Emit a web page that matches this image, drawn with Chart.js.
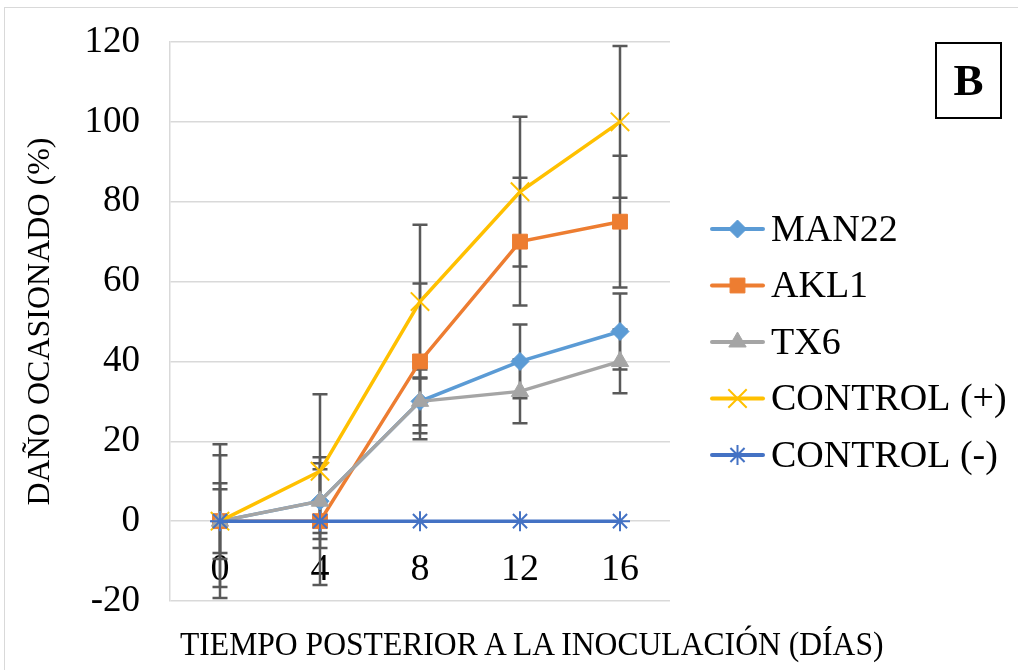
<!DOCTYPE html>
<html>
<head>
<meta charset="utf-8">
<script src="https://cdn.jsdelivr.net/npm/chart.js@4/dist/chart.umd.min.js"></script>
<style>
  html, body { margin: 0; padding: 0; background: #fff; }
  #wrap { position: relative; width: 1018px; height: 670px; overflow: hidden; }
  #frame { position: absolute; left: 4px; top: 7px; width: 1100px; height: 800px; border: 1.5px solid #d9d9d9; }
  #chart { position: absolute; left: 0; top: 0; }
  #xtitle { position: absolute; left: 180px; top: 625px; font-family: "Liberation Serif", serif; font-size: 34px;
    transform: scaleX(0.93); transform-origin: left top; white-space: nowrap; color: #000; }
  #tag { position: absolute; left: 935px; top: 42px; width: 63px; height: 73px; border: 2.5px solid #000;
    font-family: "Liberation Serif", serif; font-weight: bold; font-size: 45px; line-height: 73px; text-align: center; color: #000; }
</style>
</head>
<body>
<div id="wrap">
  <div id="frame"></div>
  <canvas id="chart" width="1018" height="670"></canvas>
  <div id="xtitle">TIEMPO POSTERIOR A LA INOCULACIÓN (DÍAS)</div>
  <div id="tag">B</div>
</div>
<script>
"use strict";

const days = ['0', '4', '8', '12', '16']

const seriesNames = ['MAN22', 'AKL1', 'TX6', 'CONTROL (+)', 'CONTROL (-)']

const man22 = [0, 5, 30, 40, 47.5]
const akl1 = [0, 0, 40, 70, 75]
const tx6 = [0, 5, 30, 32.5, 40]
const controlPos = [0, 12.5, 55, 82.5, 100]
const controlNeg = [0, 0, 0, 0, 0]

// half-length of each error bar
const man22Err = [9.5, 9.5, 8, 9.25, 9.5]
const akl1Err = [16.5, 16, 19.5, 16, 16.5]
const tx6Err = [8, 8, 6, 8, 8]
const controlPosErr = [19.25, 19.25, 19.25, 18.75, 19]
const controlNegErr = [0, 0, 0, 0, 0]

const serif = '"Liberation Serif", "Times New Roman", serif'

function series(i, data, err, color, style, radius, bw) {
	return {
		label: seriesNames[i],
		data: data,
		errors: err,
		borderColor: color,
		backgroundColor: color,
		borderWidth: 3.5,
		pointStyle: style,
		pointRadius: radius,
		pointBorderWidth: bw,
		pointBackgroundColor: color,
		pointBorderColor: color,
		tension: 0,
		fill: false,
		order: 5 - i
	}
}

const errorBars = {
	id: 'errorBars',
	beforeDatasetsDraw(chart) {
		const ctx = chart.ctx
		const xs = chart.scales.x
		const ys = chart.scales.y
		ctx.save()
		ctx.strokeStyle = '#595959'
		ctx.lineWidth = 2.5
		chart.data.datasets.forEach(ds => {
			ds.data.forEach((v, i) => {
				const e = ds.errors[i]
				if (!e) return
				const x = xs.getPixelForValue(i)
				const top = ys.getPixelForValue(v + e)
				const bot = ys.getPixelForValue(v - e)
				ctx.beginPath()
				ctx.moveTo(x, top); ctx.lineTo(x, bot)
				ctx.moveTo(x - 7.5, top); ctx.lineTo(x + 7.5, top)
				ctx.moveTo(x - 7.5, bot); ctx.lineTo(x + 7.5, bot)
				ctx.stroke()
			})
		})
		ctx.restore()
	}
}

const sideLegend = {
	id: 'sideLegend',
	afterDraw(chart) {
		const ctx = chart.ctx
		const area = chart.chartArea
		const x0 = area.right + 42
		const x1 = x0 + 51
		let y = area.top + 187
		ctx.save()
		ctx.font = '38px ' + serif
		ctx.textBaseline = 'middle'
		chart.data.datasets.forEach(ds => {
			ctx.strokeStyle = ds.borderColor
			ctx.fillStyle = ds.borderColor
			ctx.lineWidth = 4
			ctx.lineCap = 'round'
			ctx.beginPath()
			ctx.moveTo(x0, y); ctx.lineTo(x1, y)
			ctx.stroke()
			ctx.lineCap = 'butt'
			ctx.lineWidth = ds.pointBorderWidth
			Chart.helpers.drawPoint(ctx, {
				pointStyle: ds.pointStyle, radius: ds.pointRadius,
				borderWidth: ds.pointBorderWidth, rotation: 0
			}, (x0 + x1) / 2, y)
			ctx.fillStyle = '#000'
			ctx.fillText(ds.label, x1 + 8, y + 2)
			y += 56.5
		})
		ctx.restore()
	}
}

new Chart(document.getElementById('chart'), {
	type: 'line',
	data: {
		labels: days,
		datasets: [
			series(0, man22, man22Err, '#5B9BD5', 'rectRot', 9, 1),
			series(1, akl1, akl1Err, '#ED7D31', 'rect', 10.5, 1),
			series(2, tx6, tx6Err, '#A5A5A5', 'triangle', 10, 1),
			series(3, controlPos, controlPosErr, '#FFC000', 'crossRot', 13, 2),
			series(4, controlNeg, controlNegErr, '#4472C4', 'star', 10, 2)
		]
	},
	options: {
		responsive: false,
		animation: false,
		layout: { padding: { left: 0, top: 42, right: 348, bottom: 69 } },
		plugins: { legend: { display: false }, tooltip: { enabled: false } },
		scales: {
			x: {
				type: 'category',
				offset: true,
				position: { y: 0 },
				grid: { display: false },
				border: { display: false },
				ticks: { font: { family: serif, size: 38 }, color: '#000', padding: 18 }
			},
			y: {
				min: -20,
				max: 120,
				ticks: { stepSize: 20, font: { family: serif, size: 37 }, color: '#000', padding: 30 },
				grid: { color: '#d9d9d9', lineWidth: 1.5, drawTicks: false },
				border: { color: '#d9d9d9', width: 1.5 },
				title: {
					display: true,
					text: 'DAÑO OCASIONADO (%)',
					font: { family: serif, size: 32 },
					color: '#000',
					padding: { top: 21, bottom: 0 }
				},
				afterFit(scale) {
					scale.width = 170
					scale.paddingTop = 0
					scale.paddingBottom = 0
				}
			}
		}
	},
	plugins: [errorBars, sideLegend]
})
</script>
</body>
</html>
